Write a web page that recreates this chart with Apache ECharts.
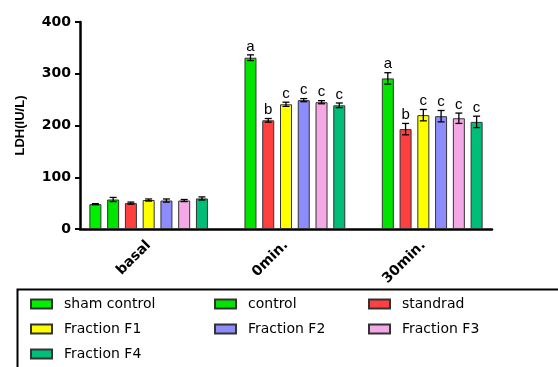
<!DOCTYPE html>
<html><head><meta charset="utf-8">
<script src="https://cdn.jsdelivr.net/npm/echarts@6/dist/echarts.min.js"></script>
<style>html,body{margin:0;padding:0;background:#fff}#c{width:558px;height:367px}</style>
</head><body><div id="c"></div>
<script>
// ---- data ----
const categories = ['basal', '0min.', '30min.'];
const seriesNames = ['sham control', 'control', 'standrad', 'Fraction F1', 'Fraction F2', 'Fraction F3', 'Fraction F4'];
const yTicks = [0, 100, 200, 300, 400];

const shamControl = [48, null, null];
const control     = [57, 331, 291];
const standrad    = [50, 210, 193];
const fractionF1  = [56, 241, 220];
const fractionF2  = [55, 249, 218];
const fractionF3  = [55, 245, 214];
const fractionF4  = [59, 239, 207];

const errSham    = [1, null, null];
const errControl = [4, 5.5, 11];
const errStd     = [2, 3.5, 11];
const errF1      = [2, 4, 11];
const errF2      = [3, 3, 11];
const errF3      = [2, 3, 10];
const errF4      = [3, 4.5, 11];

const letSham    = ['', '', ''];
const letControl = ['', 'a', 'a'];
const letStd     = ['', 'b', 'b'];
const letF1      = ['', 'c', 'c'];
const letF2      = ['', 'c', 'c'];
const letF3      = ['', 'c', 'c'];
const letF4      = ['', 'c', 'c'];

const values  = [shamControl, control, standrad, fractionF1, fractionF2, fractionF3, fractionF4];
const errors  = [errSham, errControl, errStd, errF1, errF2, errF3, errF4];
const letters = [letSham, letControl, letStd, letF1, letF2, letF3, letF4];

// ---- styles ----
const colors = ['#00f000', '#00e400', '#ff4040', '#ffff00', '#8c8cff', '#f5a8e6', '#00bd78'];
const BAR_W = 12;
const GAP_RATIO = 0.48;
const STEP = BAR_W * (1 + GAP_RATIO);
const N = seriesNames.length;

const chart = echarts.init(document.getElementById('c'), null, {renderer: 'canvas'});

const series = [];
seriesNames.forEach((name, i) => {
  series.push({
    name: name,
    type: 'bar',
    data: values[i],
    barWidth: BAR_W,
    barGap: (GAP_RATIO * 100) + '%',
    itemStyle: {color: colors[i], borderColor: '#333', borderWidth: 1},
    silent: true
  });
});
seriesNames.forEach((name, i) => {
  const d = categories.map((c, k) => values[i][k] == null ? null : [k, values[i][k], errors[i][k], letters[i][k]]).filter(x => x);
  series.push({
    type: 'custom',
    silent: true,
    z: 10,
    data: d,
    renderItem: function (params, api) {
      const k = api.value(0), v = api.value(1), e = api.value(2);
      const letter = d[params.dataIndex][3];
      const off = (i - (N - 1) / 2) * STEP;
      const top = api.coord([k, v + e]);
      const bot = api.coord([k, v - e]);
      const x = top[0] + off;
      const cap = 3.5;
      const st = {stroke: '#000', lineWidth: 1.3};
      const children = [
        {type: 'line', shape: {x1: x, y1: top[1], x2: x, y2: bot[1]}, style: st},
        {type: 'line', shape: {x1: x - cap, y1: top[1], x2: x + cap, y2: top[1]}, style: st},
        {type: 'line', shape: {x1: x - cap, y1: bot[1], x2: x + cap, y2: bot[1]}, style: st}
      ];
      if (letter) {
        children.push({type: 'text', style: {x: x, y: top[1] - 1, text: letter, fill: '#000',
          font: '15px "Liberation Sans", Arial, sans-serif', align: 'center', verticalAlign: 'bottom'}});
      }
      return {type: 'group', children: children};
    }
  });
});

const legendText = {fontFamily: '"DejaVu Sans", sans-serif', fontSize: 14, color: '#000', padding: [0, 0, 0, 7]};
function mkLegend(names, left) {
  return {
    data: names, orient: 'vertical', left: left, top: 297, padding: 0,
    icon: 'rect', itemWidth: 21, itemHeight: 9, itemGap: 11,
    textStyle: legendText, selectedMode: false
  };
}

chart.setOption({
  animation: false,
  backgroundColor: '#fff',
  grid: {left: 80, right: 66, top: 22, bottom: 138, containLabel: false},
  xAxis: {
    type: 'category', data: categories,
    axisLine: {lineStyle: {color: '#000', width: 2.5}},
    axisTick: {alignWithLabel: true, length: 5, lineStyle: {color: '#000', width: 2}},
    axisLabel: {rotate: 45, margin: 14, color: '#000', fontWeight: 'bold', fontSize: 14,
      fontFamily: '"DejaVu Sans", sans-serif'}
  },
  yAxis: {
    type: 'value', min: yTicks[0], max: yTicks[yTicks.length - 1], interval: 100,
    name: 'LDH(IU/L)', nameLocation: 'middle', nameGap: 53, nameRotate: 90,
    nameTextStyle: {color: '#000', fontWeight: 'bold', fontSize: 13, fontFamily: '"Liberation Sans", Arial, sans-serif'},
    splitLine: {show: false},
    axisLine: {show: true, lineStyle: {color: '#000', width: 2.5}},
    axisTick: {show: true, length: 5, lineStyle: {color: '#000', width: 2}},
    axisLabel: {color: '#000', fontWeight: 'bold', fontSize: 14, margin: 9,
      fontFamily: '"DejaVu Sans", sans-serif'}
  },
  legend: [
    mkLegend([seriesNames[0], seriesNames[3], seriesNames[6]], 30),
    mkLegend([seriesNames[1], seriesNames[4]], 214),
    mkLegend([seriesNames[2], seriesNames[5]], 368)
  ],
  graphic: [{
    type: 'rect', left: 15, top: 287, silent: true,
    shape: {width: 600, height: 120},
    style: {fill: 'none', stroke: '#000', lineWidth: 2}
  }],
  series: series
});
</script>
</body></html>
